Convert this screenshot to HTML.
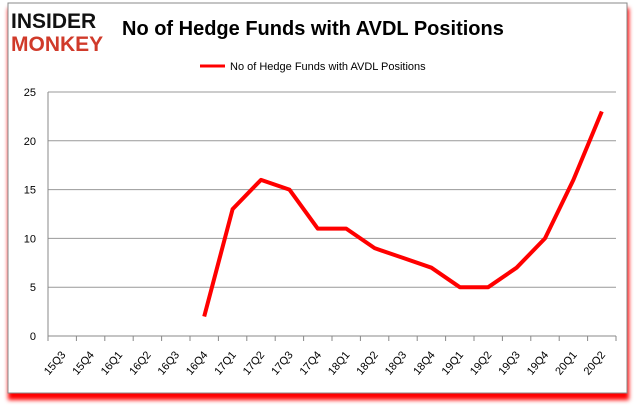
<!DOCTYPE html>
<html><head><meta charset="utf-8"><style>
body{margin:0;background:#fff;width:637px;height:408px;overflow:hidden;font-family:"Liberation Sans",sans-serif}
</style></head><body>
<svg width="637" height="408" xmlns="http://www.w3.org/2000/svg">
<defs><filter id="sh" x="-5%" y="-5%" width="110%" height="115%"><feGaussianBlur stdDeviation="2"/></filter></defs>
<rect x="8" y="8" width="621" height="392" fill="#f00" filter="url(#sh)"/>
<rect x="8" y="3" width="619" height="390" fill="#fff" stroke="#888"/>
<g font-family="Liberation Sans,sans-serif" font-weight="bold">
<text x="11" y="28" font-size="21" fill="#111">INSIDER</text>
<text x="11" y="51" font-size="21" fill="#d03a2a">MONKEY</text>
</g>
<text x="122" y="35" font-size="20" font-weight="bold" fill="#000">No of Hedge Funds with AVDL Positions</text>
<line x1="200" y1="66" x2="225" y2="66" stroke="#f00" stroke-width="3"/>
<text x="230" y="70" font-size="11" fill="#000">No of Hedge Funds with AVDL Positions</text>
<g id="grid"></g><g id="axes"></g><g id="series"></g>
</svg>
<script>
const categories=["15Q3","15Q4","16Q1","16Q2","16Q3","16Q4","17Q1","17Q2","17Q3","17Q4","18Q1","18Q2","18Q3","18Q4","19Q1","19Q2","19Q3","19Q4","20Q1","20Q2"];
const values=[null,null,null,null,null,2,13,16,15,11,11,9,8,7,5,5,7,10,16,23];
const yTicks=[0,5,10,15,20,25];
const NS="http://www.w3.org/2000/svg";
const L=48,R=616,T=92,B=336,yMax=25;
const step=(R-L)/categories.length;
function xs(i){return L+step*(i+0.5);}
function ys(v){return B-(B-T)*v/yMax;}
function mk(tag,attrs,parent){const e=document.createElementNS(NS,tag);for(const k in attrs)e.setAttribute(k,attrs[k]);document.getElementById(parent).appendChild(e);return e;}
yTicks.forEach(v=>{
  const g=mk('line',{x1:L,x2:R,y1:ys(v),y2:ys(v),stroke:v===0?'#888':'#999','stroke-width':1},'grid');
  
  
  const t=mk('text',{x:36,y:ys(v)+4,'font-size':11,'text-anchor':'end',fill:'#000'},'axes');
  t.textContent=v;
  
  
});
const ya=mk('line',{x1:L,x2:L,y1:T,y2:B+5,stroke:'#888'},'axes');


for(let i=0;i<=categories.length;i++){
  const tk=mk('line',{x1:L+step*i,x2:L+step*i,y1:B,y2:B+5,stroke:'#888'},'axes');
  
  
}
categories.forEach((c,i)=>{
  const x=xs(i)+4,y=B+19;
  const t=mk('text',{x:x,y:y,'font-size':11,'text-anchor':'end',fill:'#000',transform:`rotate(-50 ${x} ${y})`},'axes');
  t.textContent=c;
  
  
});
let d='';
values.forEach((v,i)=>{if(v===null)return;d+=(d?'L':'M')+xs(i)+' '+ys(v);});
const p=mk('path',{d:d,fill:'none',stroke:'#f00','stroke-width':4,'stroke-linejoin':'round'},'series');


</script>
</body></html>
